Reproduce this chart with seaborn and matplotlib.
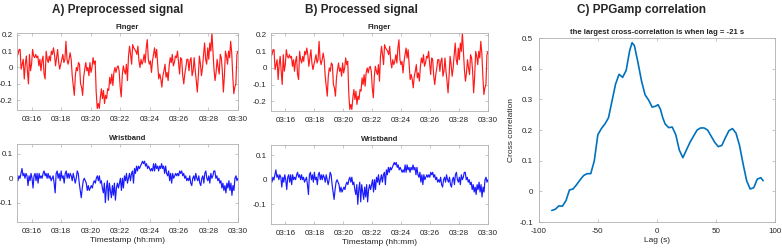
import numpy as np
import pandas as pd
import matplotlib
matplotlib.use("Agg")
import matplotlib.pyplot as plt
import matplotlib.dates as mdates
import seaborn as sns

# finger PPG (red), 03:15 -> 03:30
finger = [0.07, 0.08, 0.11, 0.11, -0.01, 0.02, 0.05, -0.07, 0.02, 0.07, -0.02, -0.10, 0.08, -0.02, 0.02,
          0.11, 0.07, 0.06, 0.08, 0.06, 0.07, 0.01, 0.05, -0.02, 0.04, 0.07, -0.04, -0.07, 0.10, 0.05,
          0.03, 0.07, 0.04, 0.10, 0.08, 0.12, 0.08, 0.01, 0.06, 0.11, 0.03, -0.01, 0.02, 0.05, 0.08,
          0.03, 0.05, 0.16, 0.05, 0.02, 0.05, 0.09, 0.05, -0.05, -0.11, -0.17, -0.05, 0.00, -0.02, 0.03,
          0.02, -0.10, -0.12, -0.17, -0.06, -0.01, 0.03, -0.02, 0.00, -0.05, 0.03, -0.03, 0.00, 0.06, 0.02,
          0.04, -0.15, -0.25, -0.22, -0.25, -0.18, -0.13, -0.19, -0.14, -0.22, -0.17, -0.19, -0.13, -0.14, -0.06,
          -0.10, -0.04, -0.11, -0.03, 0.00, -0.03, 0.00, 0.01, -0.02, -0.12, -0.18, -0.05, 0.01, -0.02, -0.04,
          0.02, -0.08, 0.07, 0.13, 0.08, 0.02, 0.14, 0.12, 0.11, 0.10, 0.08, 0.13, 0.04, 0.00, 0.05,
          0.02, 0.04, 0.08, 0.03, 0.12, 0.17, 0.05, 0.02, 0.04, -0.03, 0.04, 0.08, 0.12, 0.06, 0.11,
          0.02, -0.07, -0.04, -0.07, -0.12, -0.05, -0.02, 0.02, -0.06, -0.03, -0.08, 0.01, 0.06, 0.03, 0.08,
          0.01, 0.03, 0.07, 0.06, 0.10, 0.03, -0.04, 0.06, 0.05, -0.05, -0.10, -0.04, 0.00, 0.05, 0.05,
          -0.02, 0.04, 0.06, -0.05, -0.02, 0.06, -0.02, -0.08, -0.15, -0.05, 0.07, 0.02, -0.05, 0.00, 0.08,
          0.15, 0.05, 0.02, 0.12, 0.05, 0.15, 0.10, 0.21, 0.10, -0.01, -0.08, -0.03, 0.05, 0.00, -0.04,
          0.08, 0.06, -0.02, -0.15, -0.05, 0.10, 0.07, 0.02, 0.10, 0.06, 0.16, 0.09, -0.05, -0.16, -0.12,
          -0.10, 0.08, 0.10]

# wristband PPG (blue)
wrist = [0.01, -0.01, 0.01, 0.00, 0.02, 0.04, 0.01, 0.02, 0.00, 0.02, 0.01, -0.03, 0.01, -0.01, 0.02,
         0.00, -0.04, 0.01, 0.02, -0.01, 0.02, -0.02, 0.02, 0.00, 0.01, 0.00, 0.02, 0.03, 0.01, 0.02,
         0.00, 0.02, 0.00, 0.01, -0.01, 0.00, 0.01, -0.02, -0.06, 0.02, 0.03, 0.00, 0.02, -0.01, 0.03,
         0.00, 0.01, -0.02, 0.02, 0.03, 0.00, 0.02, 0.00, 0.02, 0.01, -0.01, 0.02, 0.00, -0.02, 0.00,
         0.03, 0.02, -0.02, -0.05, -0.08, -0.04, -0.01, 0.00, -0.01, -0.02, -0.05, -0.03, -0.05, -0.04, -0.03,
         -0.04, -0.02, -0.01, -0.02, 0.00, 0.01, -0.01, 0.01, -0.02, -0.01, -0.04, -0.06, -0.02, -0.10, -0.04,
         -0.01, -0.09, -0.02, -0.05, -0.08, -0.03, -0.07, -0.02, -0.09, -0.04, -0.02, -0.04, -0.02, 0.00, -0.05,
         0.00, -0.04, 0.01, -0.01, 0.02, -0.02, 0.00, 0.02, -0.01, 0.02, 0.03, -0.02, 0.04, 0.02, 0.05,
         0.03, 0.05, 0.04, 0.05, 0.06, 0.07, 0.06, 0.07, 0.05, 0.06, 0.04, 0.05, 0.04, 0.03, 0.04,
         0.03, 0.06, 0.03, 0.06, 0.04, 0.05, 0.03, 0.05, 0.04, 0.06, 0.04, 0.05, 0.02, 0.05, 0.02,
         0.01, 0.03, -0.01, 0.02, -0.02, 0.02, 0.00, 0.01, 0.02, 0.01, 0.02, 0.01, 0.03, 0.02, 0.03,
         0.01, 0.02, 0.00, 0.01, -0.01, 0.00, -0.01, 0.01, -0.02, -0.03, 0.00, 0.01, -0.01, 0.02, 0.00,
         -0.01, 0.01, -0.02, -0.03, 0.00, 0.01, -0.02, 0.02, 0.03, 0.00, -0.01, 0.01, -0.02, 0.02, 0.00,
         0.01, 0.03, 0.03, 0.00, 0.01, -0.01, 0.00, -0.02, -0.01, -0.04, -0.02, -0.05, -0.03, -0.06, -0.02,
         -0.04, -0.01, -0.05, -0.02, -0.07, -0.03, -0.05, 0.00, 0.01, -0.01, 0.00]

# cross-correlation vs lag
lag = [-89, -86, -83, -80, -77, -74, -71, -68, -65, -62, -59, -56, -53, -50, -47, -44, -41, -38, -35, -32,
       -29, -26, -23, -21, -19, -16, -13, -10, -7, -4, -1, 1, 3, 5, 7, 10, 13, 16, 19, 22,
       25, 28, 31, 34, 37, 40, 43, 46, 49, 52, 55, 58, 61, 64, 67, 70, 73, 76, 79, 82,
       85, 88, 90]
xcorr = [-0.062, -0.058, -0.047, -0.048, -0.030, 0.005, 0.008, 0.022, 0.038, 0.052, 0.058, 0.058, 0.100,
         0.185, 0.205, 0.220, 0.240, 0.295, 0.350, 0.382, 0.372, 0.395, 0.460, 0.485, 0.475, 0.420, 0.360,
         0.315, 0.298, 0.275, 0.278, 0.283, 0.268, 0.240, 0.220, 0.208, 0.210, 0.185, 0.135, 0.110, 0.135,
         0.160, 0.180, 0.200, 0.207, 0.207, 0.200, 0.180, 0.160, 0.146, 0.150, 0.175, 0.198, 0.205, 0.190,
         0.150, 0.090, 0.035, 0.008, 0.012, 0.040, 0.045, 0.035]

t0, t1 = "2024-01-01 03:15", "2024-01-01 03:30"
df_f = pd.DataFrame({"t": pd.date_range(t0, t1, periods=len(finger)), "v": finger})
df_w = pd.DataFrame({"t": pd.date_range(t0, t1, periods=len(wrist)), "v": wrist})
df_c = pd.DataFrame({"lag": lag, "r": xcorr})

sns.set_theme(style="ticks")
plt.rcParams["font.family"] = ["Liberation Sans", "DejaVu Sans"]
plt.rcParams["axes.unicode_minus"] = False
TXT = "#262626"
EDGE = "#b0b0b0"

fig = plt.figure(figsize=(7.82, 2.49), dpi=100)


def style_ax(ax, fs=5.8):
    for s in ax.spines.values():
        s.set_color(EDGE)
        s.set_linewidth(0.6)
    ax.tick_params(direction="in", length=2, width=0.5, color=EDGE, labelsize=fs,
                   labelcolor=TXT, top=True, right=True)
    ax.tick_params(axis="x", pad=4)
    ax.tick_params(axis="y", pad=3)
    ax.set_xlabel("")
    ax.set_ylabel("")


def time_ax(ax):
    ax.set_xlim(pd.Timestamp(t0), pd.Timestamp(t1))
    ax.xaxis.set_major_locator(mdates.MinuteLocator(byminute=range(16, 31, 2)))
    ax.xaxis.set_major_formatter(mdates.DateFormatter("%H:%M"))


panels = [
    ([0.0217, 0.558, 0.2826, 0.309], [0.0217, 0.108, 0.2826, 0.313]),
    ([0.3465, 0.554, 0.2775, 0.313], [0.3465, 0.100, 0.2775, 0.317]),
]
for pf, pw in panels:
    ax = fig.add_axes(pf)
    sns.lineplot(data=df_f, x="t", y="v", ax=ax, color="#ff1a1a", linewidth=0.85)
    time_ax(ax)
    ax.set_ylim(-0.26, 0.21)
    ax.set_yticks([-0.2, -0.1, 0, 0.1, 0.2])
    ax.set_yticklabels(["-0.2", "-0.1", "0", "0.1", "0.2"])
    style_ax(ax)
    ax.set_title("Finger", fontsize=5.5, fontweight="bold", color=TXT, pad=3)

    ax = fig.add_axes(pw)
    sns.lineplot(data=df_w, x="t", y="v", ax=ax, color="#1a1aff", linewidth=0.85)
    time_ax(ax)
    ax.set_ylim(-0.18, 0.14)
    ax.set_yticks([-0.1, 0, 0.1])
    ax.set_yticklabels(["-0.1", "0", "0.1"])
    style_ax(ax)
    ax.set_title("Wristband", fontsize=5.5, fontweight="bold", color=TXT, pad=3)
    ax.set_xlabel("Timestamp (hh:mm)", fontsize=6, color=TXT, labelpad=1.5)

ax = fig.add_axes([0.689, 0.108, 0.302, 0.739])
sns.lineplot(data=df_c, x="lag", y="r", ax=ax, color="#0072BD", linewidth=1.2)
ax.set_xlim(-100, 100)
ax.set_ylim(-0.1, 0.5)
ax.set_xticks([-100, -50, 0, 50, 100])
ax.set_yticks([-0.1, 0, 0.1, 0.2, 0.3, 0.4, 0.5])
ax.set_yticklabels(["-0.1", "0", "0.1", "0.2", "0.3", "0.4", "0.5"])
style_ax(ax, fs=5.8)
ax.tick_params(axis="y", pad=4)
ax.set_title("the largest cross-correlation is when lag = -21 s", fontsize=5.6,
             fontweight="bold", color=TXT, pad=3)
ax.set_xlabel("Lag (s)", fontsize=6, color=TXT, labelpad=1.5)
ax.set_ylabel("Cross correlation", fontsize=6, color=TXT, labelpad=3)

fig.text(0.151, 0.958, "A) Preprocessed signal", fontsize=8.5, fontweight="bold", ha="center", va="center")
fig.text(0.462, 0.958, "B) Processed signal", fontsize=8.5, fontweight="bold", ha="center", va="center")
fig.text(0.820, 0.958, "C) PPGamp correlation", fontsize=8.5, fontweight="bold", ha="center", va="center")

fig.savefig("out.png", dpi=100)
